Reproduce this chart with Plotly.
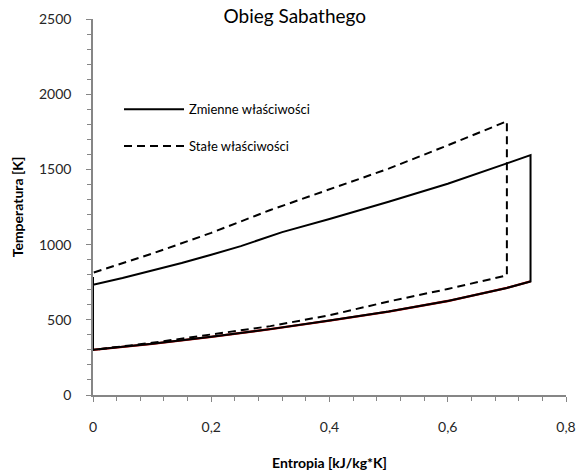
import plotly.graph_objects as go

# Zmienne właściwości (variable properties)
s_var_up = [0.0, 0.05, 0.10, 0.15, 0.20, 0.25, 0.32, 0.40, 0.50, 0.60, 0.70, 0.74]
T_var_up = [733, 778, 826, 878, 933, 990, 1083, 1170, 1285, 1405, 1540, 1595]
s_var_lo = [0.74, 0.70, 0.60, 0.50, 0.40, 0.30, 0.20, 0.10, 0.0]
T_var_lo = [755, 712, 625, 555, 495, 438, 387, 340, 300]

# Stałe właściwości (constant properties)
s_const_up = [0.0, 0.10, 0.20, 0.30, 0.40, 0.50, 0.60, 0.70]
T_const_up = [813, 940, 1078, 1230, 1370, 1505, 1660, 1820]
s_const_lo = [0.70, 0.60, 0.50, 0.40, 0.30, 0.20, 0.10, 0.0]
T_const_lo = [795, 705, 622, 530, 458, 402, 347, 300]

x_ticks = [0, 0.2, 0.4, 0.6, 0.8]
y_ticks = [0, 500, 1000, 1500, 2000, 2500]

FONT = "Lato"

# closed cycles: start at bottom-left, up the isentrope, along upper curve, down, back along lower curve
var_s = [s_var_lo[-1]] + s_var_up + s_var_lo
var_T = [T_var_lo[-1]] + T_var_up + T_var_lo
const_s = [s_const_lo[-1]] + s_const_up + s_const_lo
const_T = [T_const_lo[-1]] + T_const_up + T_const_lo

fig = go.Figure()
fig.add_trace(go.Scatter(x=s_var_lo, y=T_var_lo, mode="lines", showlegend=False,
                         line=dict(color="#c00000", width=2.3), hoverinfo="skip"))
fig.add_trace(go.Scatter(x=var_s, y=var_T, mode="lines", name="Zmienne właściwości",
                         legendgroup="a", line=dict(color="black", width=2)))
fig.add_trace(go.Scatter(x=const_s, y=const_T, mode="lines", name="Stałe właściwości",
                         legendgroup="b", line=dict(color="black", width=2, dash="8px,5px")))

axis_common = dict(showline=True, linecolor="#868686", linewidth=1.5, showgrid=False,
                   zeroline=False, ticks="outside", ticklen=5, tickwidth=1.2, automargin=False,
                   tickcolor="#868686", tickfont=dict(family=FONT, size=14, color="#262626"))

fig.update_xaxes(range=[0, 0.8], tickvals=x_ticks, ticklabelstandoff=13,
                 minor=dict(dtick=0.04, ticks="outside", ticklen=4, tickcolor="#868686", tickwidth=1.2),
                 title=dict(text="<b>Entropia [kJ/kg*K]</b>", font=dict(family=FONT, size=14, color="black"),
                            standoff=25),
                 **axis_common)
fig.update_yaxes(range=[0, 2500], tickvals=y_ticks, ticklabelstandoff=12,
                 minor=dict(dtick=100, ticks="outside", ticklen=4, tickcolor="#868686", tickwidth=1.2),
                 title=dict(text="<b>Temperatura [K]</b>", font=dict(family=FONT, size=14, color="black"),
                            standoff=12),
                 **axis_common)

fig.update_layout(
    width=586, height=475,
    margin=dict(l=93, r=20, t=19, b=80),
    paper_bgcolor="white", plot_bgcolor="white",
    separators=", ",
    title=dict(text="Obieg Sabathego", x=0.503, xanchor="center", y=0.965, yanchor="middle",
               font=dict(family=FONT, size=19, color="black")),
    legend=dict(x=0.055, y=0.80, xanchor="left", yanchor="top", bgcolor="rgba(0,0,0,0)",
                font=dict(family=FONT, size=13, color="black"), tracegroupgap=17,
                traceorder="grouped", itemwidth=60),
    showlegend=True,
)

fig.write_html("out.html")
